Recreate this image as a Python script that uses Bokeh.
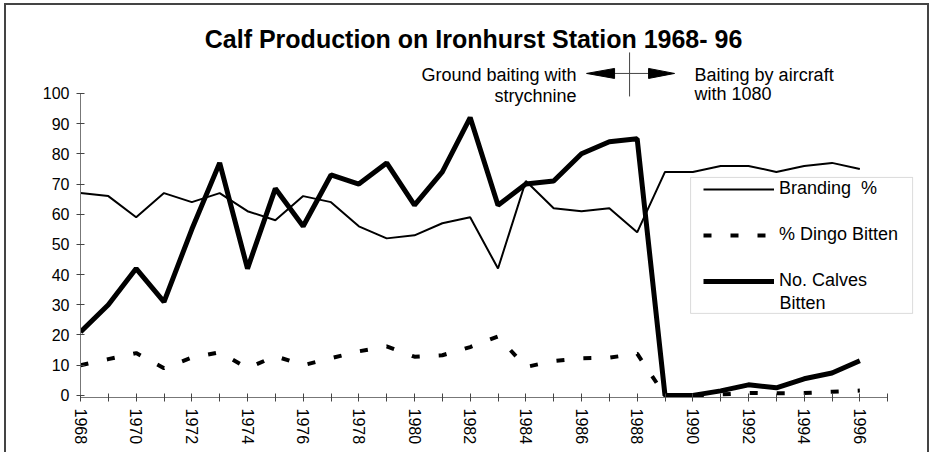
from bokeh.plotting import figure
from bokeh.models import Range1d, FixedTicker, Legend, LegendItem, Label, BoxAnnotation
from bokeh.embed import file_html
from bokeh.resources import INLINE

# ---- data ----
years = list(range(1968, 1997))
branding = [67, 66, 59, 67, 64, 67, 61, 58, 66, 64,
            56, 52, 53, 57, 59, 42, 71, 62, 61, 62,
            54, 74, 74, 76, 76, 74, 76, 77, 75]
dingo = [10, 12, 14, 9, 12.5, 14.3, 9, 13, 10, 12.3,
         14.6, 16.2, 12.8, 13.3, 16, 19.5, 9.4, 11.4, 12.3, 12.5,
         13.8, 0, 0, 0.3, 0.8, 0.7, 0.8, 1.2, 1.6]
calves = [21, 30, 42, 31, 55, 77, 42, 68.5, 56, 73,
          70, 77, 63, 74, 92, 63, 70, 71, 80, 84,
          85, 0, 0, 1.5, 3.5, 2.5, 5.5, 7.4, 11.5]
x_ticks = list(range(1968, 1998))
y_ticks = list(range(0, 101, 10))

title_text = "Calf Production on Ironhurst Station 1968- 96"
left_note = ["Ground baiting with", "strychnine"]
right_note = ["Baiting by aircraft", "with 1080"]
legend_labels = ["Branding  %", "% Dingo Bitten", "No. Calves", "Bitten"]

FONT = "Liberation Sans"

p = figure(width=925, height=449,
           x_range=Range1d(1968, 1998), y_range=Range1d(-0.7, 127.8),
           output_backend="svg", toolbar_location=None,
           min_border_left=74, min_border_right=16,
           min_border_top=4, min_border_bottom=57)
p.styles = {"margin-left": "4px", "margin-top": "3px",
            "border-left": "2px solid #444", "border-top": "2px solid #444",
            "border-right": "2px solid #444"}
p.outline_line_color = None
p.xgrid.visible = False
p.ygrid.visible = False
p.background_fill_color = "white"
p.border_fill_color = "white"

# axes
xa = p.xaxis[0]
xa.ticker = FixedTicker(ticks=x_ticks)
xa.major_label_overrides = {y: (str(y) if (y % 2 == 0 and y <= 1996) else "") for y in x_ticks}
xa.major_label_orientation = "vertical"
xa.bounds = (1968, 1997)
ya = p.yaxis[0]
ya.ticker = FixedTicker(ticks=y_ticks)
ya.bounds = (0, 100)
for ax in (xa, ya):
    ax.axis_line_color = "#777"
    ax.axis_line_width = 1
    ax.major_tick_line_color = "#444"
    ax.major_tick_in = 4
    ax.major_tick_out = 4
    ax.minor_tick_line_color = None
    ax.major_label_text_font = FONT
    ax.major_label_text_font_size = "16px"
    ax.major_label_text_color = "black"
    ax.major_label_standoff = 7

# series
r_brand = p.line(years, branding, line_color="black", line_width=2)
r_dingo = p.line(years, dingo, line_color="black", line_width=4, line_dash="8 19")
r_calves = p.line(years, calves, line_color="black", line_width=5)

# page px -> data helpers for annotation placement
def dx(px):
    return 1968 + (px - 79) / 27.83

def dy(py):
    return (395 - py) / 3.02

# legend box
p.add_layout(BoxAnnotation(left=dx(689), right=dx(911), top=dy(177), bottom=dy(313),
                           fill_color="white", fill_alpha=1,
                           line_color="#888", line_width=1))
legend = Legend(items=[LegendItem(label=legend_labels[0], renderers=[r_brand]),
                       LegendItem(label=legend_labels[1], renderers=[r_dingo]),
                       LegendItem(label=legend_labels[2], renderers=[r_calves])],
                location=(623, 106), orientation="vertical",
                glyph_width=71, glyph_height=20, label_standoff=5,
                label_text_font=FONT, label_text_font_size="18px",
                label_text_color="black", padding=0, spacing=25, margin=0,
                border_line_color=None, background_fill_alpha=0)
p.add_layout(legend)
p.add_layout(Label(x=dx(778), y=dy(303), text=legend_labels[3], text_align="left",
                   text_baseline="alphabetic", text_font=FONT,
                   text_font_size="18px", text_color="black"))

# title and annotations
p.add_layout(Label(x=dx(472), y=dy(39), text=title_text, text_align="center",
                   text_baseline="alphabetic", text_font=FONT,
                   text_font_size="25px", text_font_style="bold", text_color="black"))
for i, t in enumerate(left_note):
    p.add_layout(Label(x=dx(575), y=dy(75 + 21 * i), text=t, text_align="right",
                       text_baseline="alphabetic", text_font=FONT,
                       text_font_size="18px", text_color="black"))
for i, t in enumerate(right_note):
    p.add_layout(Label(x=dx(693), y=dy(75 + 19 * i), text=t, text_align="left",
                       text_baseline="alphabetic", text_font=FONT,
                       text_font_size="18px", text_color="black"))

# arrow marker between annotations
p.segment(x0=[dx(628), dx(613)], y0=[dy(52), dy(73)],
          x1=[dx(628), dx(647)], y1=[dy(96), dy(73)],
          line_color="#444", line_width=1)
p.patches(xs=[[dx(585), dx(613), dx(613)], [dx(673), dx(647), dx(647)]],
          ys=[[dy(73), dy(68), dy(78)], [dy(73), dy(68), dy(78)]],
          fill_color="black", line_color="black")

open("out.html", "w").write(file_html(p, INLINE))
